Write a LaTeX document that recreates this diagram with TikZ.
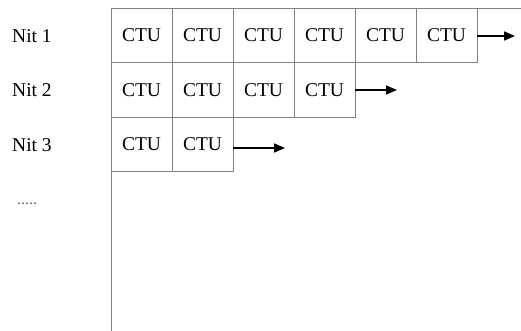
\documentclass[tikz,border=0pt]{standalone}
\usepackage{fontspec}
\setmainfont{Liberation Serif}
\usetikzlibrary{arrows.meta}
\begin{document}
\begin{tikzpicture}[x=1pt,y=-1pt,
  cell/.style={draw=black!50,line width=0.9pt,minimum width=61pt,minimum height=54.5pt,inner sep=0pt,outer sep=0pt,font=\fontsize{19.5}{20}\selectfont},
  lab/.style={anchor=west,inner sep=0pt,font=\fontsize{19.5}{20}\selectfont},
  arr/.style={line width=1.6pt,-{Triangle[length=11pt,width=9pt]}}]
\useasboundingbox (0,0) rectangle (521,331);
% rows
\foreach \i in {1,...,6}{\node[cell] (a\i) at ({111+30.5+61*(\i-1)},35.25) {CTU};}
\foreach \i in {1,...,4}{\node[cell] (b\i) at ({111+30.5+61*(\i-1)},89.75) {CTU};}
\foreach \i in {1,...,2}{\node[cell] (c\i) at ({111+30.5+61*(\i-1)},144.25) {CTU};}
% axes
\coordinate (tl) at (111,8);
\coordinate (tr) at (521,8);
\coordinate (bl) at (111,331);
\draw[black!50,line width=0.9pt] (tr) -- (tl) -- (bl);
% arrows
\coordinate (ea) at (515,36);
\coordinate (eb) at (397,90);
\coordinate (ec) at (285,148);
\draw[arr] (a6.east |- ea) -- (ea);
\draw[arr] (b4.east |- eb) -- (eb);
\draw[arr] (c2.east |- ec) -- (ec);
% labels
\node[lab] (n1) at (12,36) {Nit 1};
\node[lab] (n2) at (12,90.5) {Nit 2};
\node[lab] (n3) at (12,145) {Nit 3};
\node[lab,font=\fontsize{16}{16}\selectfont,text=black!60] (n4) at (17,204) {.....};
\end{tikzpicture}
\end{document}
